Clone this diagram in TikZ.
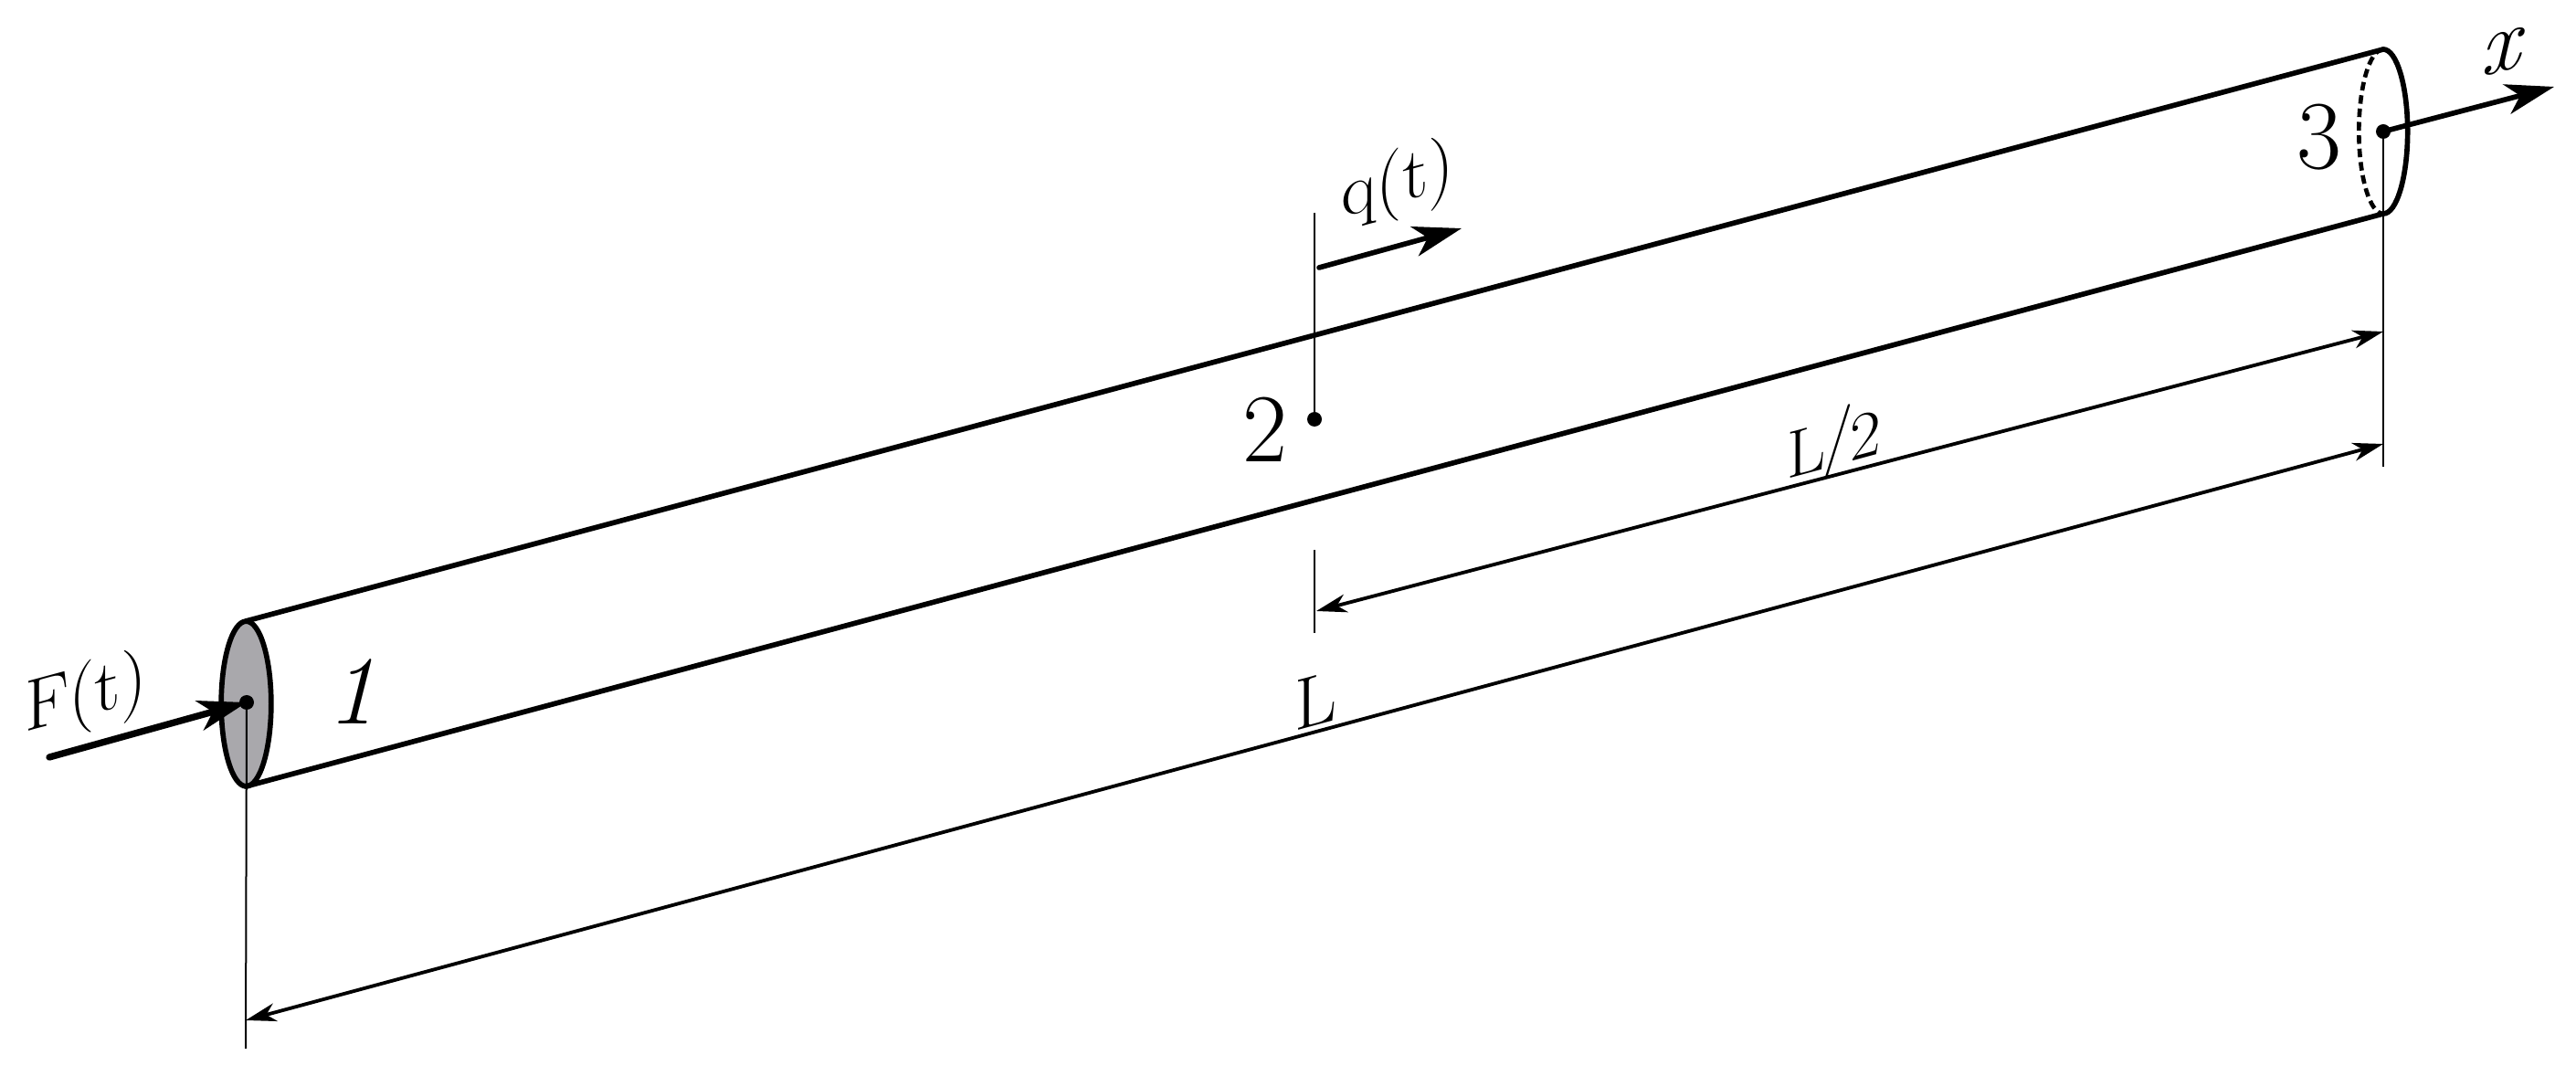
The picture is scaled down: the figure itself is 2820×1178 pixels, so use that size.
\documentclass[tikz,border=0pt]{standalone}
\usetikzlibrary{arrows.meta}
\definecolor{endgray}{HTML}{A9A8AC}
\tikzset{
  x=0.3pt,y=-0.3pt,
  rod/.style={line width=1.7pt,black,line cap=round},
  thin line/.style={line width=0.6pt,black},
  dim/.style={line width=1.15pt,black,{Stealth[length=10pt,width=6pt,inset=3pt]}-{Stealth[length=10pt,width=6pt,inset=3pt]}},
  force/.style={line width=#1,black,line cap=round,-{Stealth[length=16pt,width=10pt,inset=4.5pt]}},
  pt/.style={circle,fill=black,inner sep=0pt,minimum size=4.8pt},
  lab/.style={inner sep=0pt,yslant=0.27,font=\fontsize{24}{28}\selectfont},
  num/.style={inner sep=0pt,font=\fontsize{32}{36}\selectfont}
}
\begin{document}
\begin{tikzpicture}
\useasboundingbox (0,0) rectangle (2820,1178);
\coordinate (lt) at (269,680);
\coordinate (lb) at (269,861);
\coordinate (rt) at (2609,54);
\coordinate (rb) at (2609,234);
\coordinate (fs) at (54,829);
\coordinate (qs) at (1444,293);
\coordinate (qe) at (1600,250);
\coordinate (xe) at (2796,95);
\coordinate (v2t) at (1439,233);
\coordinate (t2t) at (1439,602);
\coordinate (t2b) at (1439,693);
\coordinate (lv) at (269,1148);
\coordinate (rv) at (2609,511);
\coordinate (lla) at (269,1117);
\coordinate (llb) at (2609,486);
\coordinate (l2a) at (1441,669);
\coordinate (l2b) at (2609,363);
\fill[endgray] (269.5,770.5) circle[x radius=8.2pt,y radius=27.1pt];
\draw[rod] (269.5,770.5) circle[x radius=8.2pt,y radius=27.1pt];
\draw[rod] (lt) -- (rt);
\draw[rod] (lb) -- (rb);
\draw[rod] (rt) arc[start angle=90,delta angle=-180,x radius=8pt,y radius=27pt];
\draw[line width=1.4pt,dash pattern=on 2.8pt off 1.6pt] (rt) arc[start angle=90,delta angle=180,x radius=8pt,y radius=27pt];
\node[pt] (p1) at (270,769) {};
\node[pt] (p2) at (1439,459) {};
\node[pt] (p3) at (2609,144) {};
\draw[thin line] (p1.center) -- (lv);
\draw[thin line] (p3.center) -- (rv);
\draw[thin line] (v2t) -- (p2.center);
\draw[thin line] (t2t) -- (t2b);
\draw[dim] (lla) -- (llb);
\draw[dim] (l2a) -- (l2b);
\draw[force=2.2pt] (fs) -- (p1.center);
\draw[force=1.7pt] (qs) -- (qe);
\draw[force=1.7pt] (p3.center) -- (xe);
\node[lab] (ft) at (94,764) {F(t)};
\node[lab] (qt) at (1530,202) {q(t)};
\node[lab,font=\fontsize{22}{26}\selectfont] (l2) at (2008,484) {L\kern-1pt\raisebox{2.5pt}{/}\kern-1pt2};
\node[lab] (ll) at (1441,767) {L};
\node[num] (n1) at (385,757) {\itshape 1};
\node[num] (n2) at (1385,470) {2};
\node[num] (n3) at (2539,150) {3};
\node[num,yslant=0.27,font=\fontsize{29}{33}\selectfont\itshape] (nx) at (2737,58) {x};
\end{tikzpicture}
\end{document}
